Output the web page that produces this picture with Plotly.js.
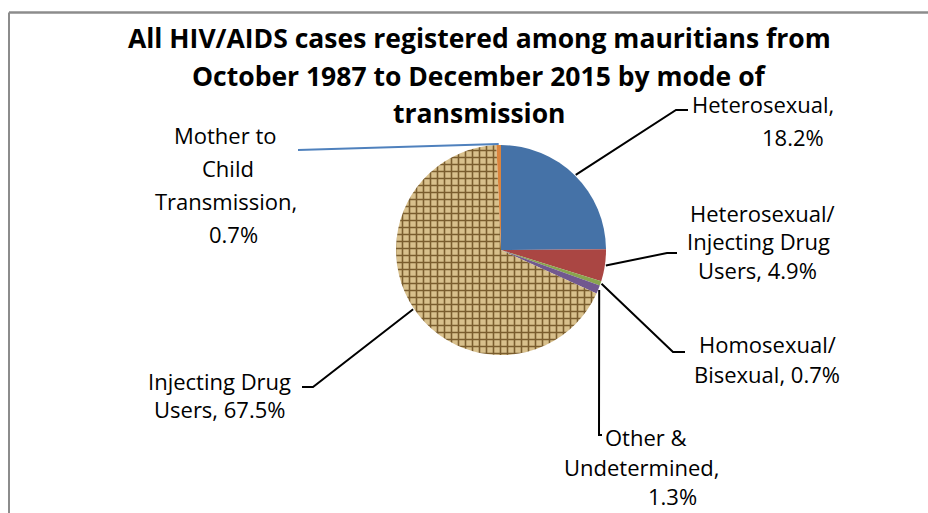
<!DOCTYPE html>
<html>
<head>
<meta charset="utf-8">
<script src="https://cdn.plot.ly/plotly-3.0.1.min.js"></script>
<style>
  html, body { margin: 0; padding: 0; background: #fff; }
  #chart { width: 928px; height: 513px; }
</style>
</head>
<body>
<div id="chart"></div>
<script>
// slice order as drawn, clockwise from 12 o'clock
const modes = ['Heterosexual', 'Heterosexual/Injecting Drug Users', 'Homosexual/Bisexual',
               'Other & Undetermined', 'Injecting Drug Users', 'Mother to Child Transmission'];
const shares = [24.9, 4.9, 0.7, 1.3, 67.5, 0.7];
const sliceColors = ['#4572a7', '#aa4643', '#89a54e', '#71588f', '#c9ad7a', '#db843d'];

// label text, one entry per line (as printed on the chart)
const labelLines = [
  ['Heterosexual,', '18.2%'],
  ['Heterosexual/', 'Injecting Drug', 'Users, 4.9%'],
  ['Homosexual/', 'Bisexual, 0.7%'],
  ['Other &', 'Undetermined,', '1.3%'],
  ['Injecting Drug', 'Users, 67.5%'],
  ['Mother to', 'Child', 'Transmission,', '0.7%']
];
const titleLines = ['All HIV/AIDS cases registered among mauritians from',
                    'October 1987 to December 2015 by mode of',
                    'transmission'];

const W = 928, H = 513;
const cx = 501, cy = 250, R = 105;
const px = x => x / W;
const py = y => 1 - y / H;

// where each label block sits (line centres) and how its leader bends
const labelPos = [
  { lines: [[763, 104], [793, 137]], bend: [[676, 110], [688, 110]] },
  { lines: [[762, 213], [758, 241], [757, 270]], bend: [[667, 253], [677, 253]] },
  { lines: [[767, 344], [767, 374]], bend: [[673, 352], [685, 352]] },
  { lines: [[646, 437], [641, 467], [672, 496]], bend: [[599, 435], [602, 435]] },
  { lines: [[219, 381], [219, 409]], bend: [[313, 387], [302, 387]] },
  { lines: [[225, 135], [228, 168], [226, 201], [233, 234]], bend: [[298, 150]] }
];

const total = shares.reduce((a, b) => a + b, 0);
let cum = 0;
const shapes = [];
const annotations = [];

shares.forEach((v, i) => {
  const mid = (cum + v / 2) / total * 2 * Math.PI;
  cum += v;
  const sx = cx + (R + 1) * Math.sin(mid);
  const sy = cy - (R + 1) * Math.cos(mid);
  let path = `M ${px(sx)} ${py(sy)}`;
  labelPos[i].bend.forEach(p => { path += ` L ${px(p[0])} ${py(p[1])}`; });
  shapes.push({
    type: 'path', xref: 'paper', yref: 'paper', path: path,
    line: { color: i === 5 ? '#4f81bd' : '#000', width: 2 }
  });
  labelLines[i].forEach((t, k) => {
    const p = labelPos[i].lines[k];
    annotations.push({
      xref: 'paper', yref: 'paper', x: px(p[0]), y: py(p[1]),
      xanchor: 'center', yanchor: 'middle', showarrow: false,
      text: t, font: { family: 'Open Sans', size: 22, color: '#000' }
    });
  });
});

const titleY = [38, 76, 113];
titleLines.forEach((t, k) => {
  annotations.push({
    xref: 'paper', yref: 'paper', x: px(479), y: py(titleY[k]),
    xanchor: 'center', yanchor: 'middle', showarrow: false,
    text: '<b>' + t + '</b>', font: { family: 'Open Sans', size: 26.5, color: '#000' }
  });
});

// chart frame (only top and left edges fall inside the picture)
shapes.push({ type: 'line', xref: 'paper', yref: 'paper', x0: px(9), y0: py(12.5), x1: px(930), y1: py(12.5),
              line: { color: '#8c8c8c', width: 2.5 } });
shapes.push({ type: 'line', xref: 'paper', yref: 'paper', x0: px(9), y0: py(12.5), x1: px(9), y1: py(520),
              line: { color: '#8c8c8c', width: 2 } });

const trace = {
  type: 'pie', labels: modes, values: shares,
  sort: false, direction: 'clockwise', rotation: 0,
  textinfo: 'none', hoverinfo: 'label+percent',
  domain: { x: [px(cx - R), px(cx + R)], y: [py(cy + R), py(cy - R)] },
  marker: {
    colors: sliceColors,
    line: { width: 0 },
    pattern: {
      shape: ['', '', '', '', '+', ''],
      fgcolor: '#7a5d2e', bgcolor: '#d8c08c', size: 7, solidity: 0.4
    }
  }
};

const layout = {
  width: W, height: H,
  margin: { t: 0, b: 0, l: 0, r: 0 },
  paper_bgcolor: '#fff', plot_bgcolor: '#fff',
  showlegend: false,
  shapes: shapes,
  annotations: annotations
};

Plotly.newPlot('chart', [trace], layout, { displayModeBar: false, staticPlot: true });
</script>
</body>
</html>
